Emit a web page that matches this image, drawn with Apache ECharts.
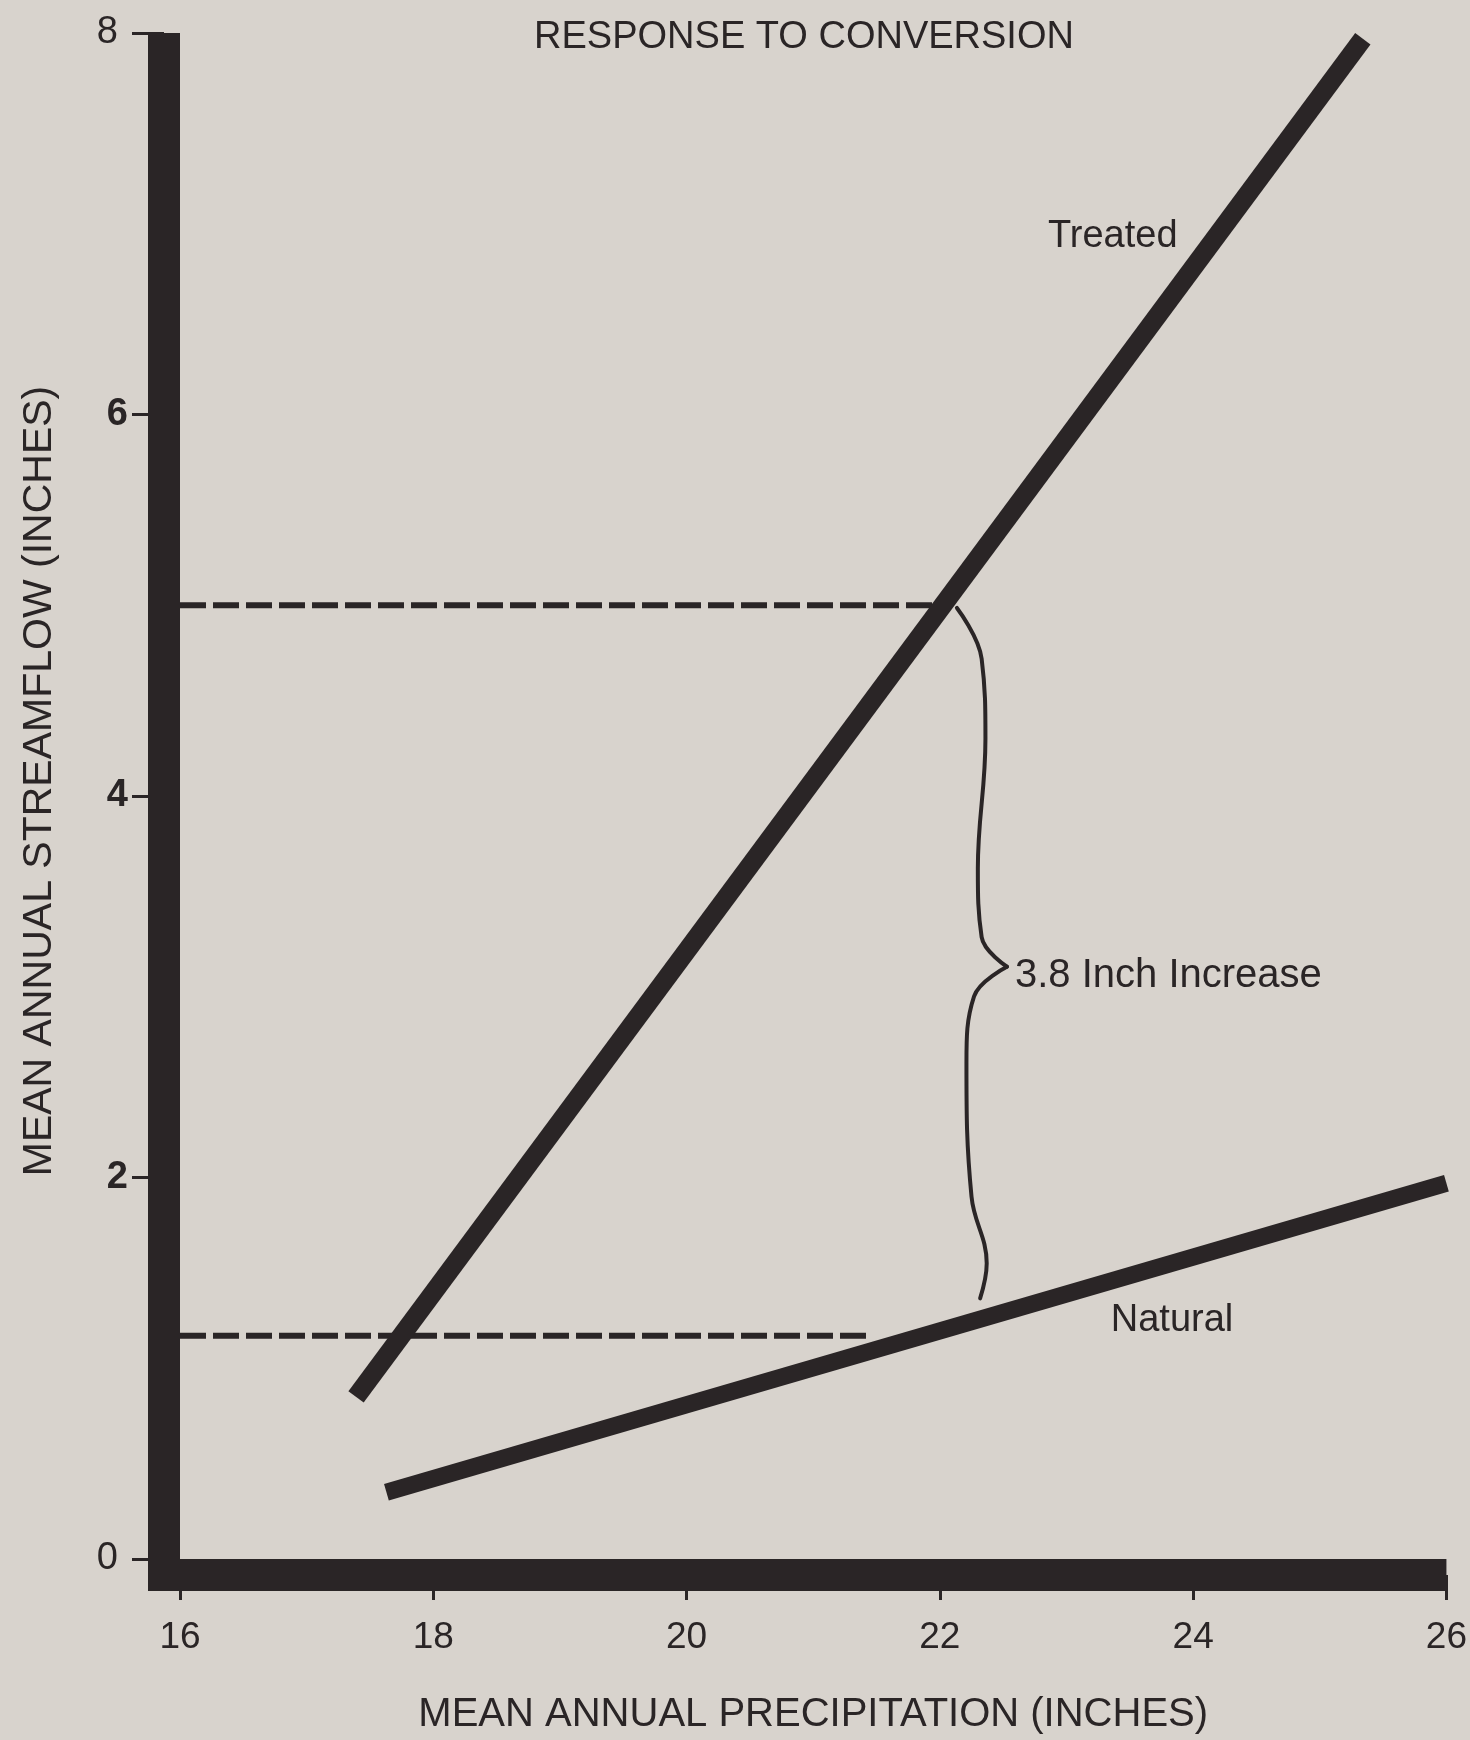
<!DOCTYPE html>
<html>
<head>
<meta charset="utf-8">
<script src="https://cdn.jsdelivr.net/npm/echarts@6/dist/echarts.min.js"></script>
<style>
html,body{margin:0;padding:0;background:#d8d3cd;}
#c{width:1470px;height:1740px;}
</style>
</head>
<body>
<div id="c"></div>
<script>
// ---- data ----
const xTicks = [16, 18, 20, 22, 24, 26];
const yTicks = [0, 2, 4, 6, 8];
const treatedX = [17.39, 25.34];
const treatedY = [0.85, 7.97];
const naturalX = [17.63, 26.0];
const naturalY = [0.35, 1.97];
const upperRefX = [16, 22.0];
const upperRefY = [5.0, 5.0];
const lowerRefX = [16, 21.45];
const lowerRefY = [1.17, 1.17];
// curly brace (annotation) key points in data units
const braceUpperX = [22.135, 22.33, 22.36, 22.30, 22.33, 22.53];
const braceUpperY = [4.986, 4.72, 4.30, 3.62, 3.26, 3.105];
const braceLowerX = [22.53, 22.27, 22.21, 22.25, 22.37, 22.318];
const braceLowerY = [3.105, 2.95, 2.60, 1.90, 1.55, 1.366];
const titleText = 'RESPONSE TO CONVERSION';
const xName = 'MEAN ANNUAL PRECIPITATION (INCHES)';
const yName = 'MEAN ANNUAL STREAMFLOW (INCHES)';
const treatedLabel = 'Treated';
const naturalLabel = 'Natural';
const increaseLabel = '3.8 Inch Increase';

const ink = '#2a2526';
const font = '"Liberation Sans", Arial, Helvetica, sans-serif';
const zip = (xs, ys) => xs.map((x, i) => [x, ys[i]]);

const chart = echarts.init(document.getElementById('c'), null, {renderer: 'canvas'});
chart.setOption({
  backgroundColor: '#d8d3cd',
  animation: false,
  grid: {left: 180, right: 23, top: 33, bottom: 179, containLabel: false},
  xAxis: {
    type: 'value', min: 16, max: 26, interval: 2, offset: 16,
    name: xName, nameLocation: 'middle', nameGap: 120,
    nameTextStyle: {color: ink, fontSize: 40, fontFamily: font},
    axisLine: {show: true, onZero: false, lineStyle: {color: ink, width: 32, cap: 'butt'},
      symbol: ['rect', 'none'], symbolSize: [32, 32], symbolOffset: [-16, 0]},
    axisTick: {show: true, length: 25, lineStyle: {color: ink, width: 3}},
    axisLabel: {color: ink, fontSize: 37, fontFamily: font, margin: 44,
      formatter: v => xTicks.includes(v) ? String(v) : ''},
    splitLine: {show: false}
  },
  yAxis: {
    type: 'value', min: 0, max: 8, interval: 2, offset: 16,
    name: yName, nameLocation: 'middle', nameGap: 104,
    nameTextStyle: {color: ink, fontSize: 41, fontFamily: font, padding: [0, 0, 0, 30]},
    axisLine: {show: true, onZero: false, lineStyle: {color: ink, width: 32, cap: 'butt'}},
    axisTick: {show: true, length: 32, lineStyle: {color: ink, width: 3}},
    axisLabel: {color: ink, fontSize: 38, fontFamily: font, margin: 36,
      formatter: v => !yTicks.includes(v) ? '' : (v === 0 || v === 8 ? '{e|' + v + '}' : '{m|' + v + '}'),
      rich: {
        e: {fontSize: 38, fontFamily: font, color: ink, padding: [0, 10, 0, 0]},
        m: {fontSize: 38, fontFamily: font, color: ink, fontWeight: 'bold'}
      }},
    splitLine: {show: false}
  },
  graphic: [
    {type: 'text', x: 804, y: 38, style: {text: titleText, fill: ink, font: '38px ' + font, align: 'center', verticalAlign: 'middle'}},
    {type: 'text', x: 1048, y: 237, style: {text: treatedLabel, fill: ink, font: '38px ' + font, align: 'left', verticalAlign: 'middle'}},
    {type: 'text', x: 1172, y: 1321, style: {text: naturalLabel, fill: ink, font: '38px ' + font, align: 'center', verticalAlign: 'middle'}},
    {type: 'text', x: 1015, y: 976, style: {text: increaseLabel, fill: ink, font: '40px ' + font, align: 'left', verticalAlign: 'middle'}}
  ],
  series: [
    {type: 'line', name: 'upperRef', data: zip(upperRefX, upperRefY), showSymbol: false, z: 2,
      lineStyle: {color: ink, width: 6, type: [26, 7], cap: 'butt'}},
    {type: 'line', name: 'lowerRef', data: zip(lowerRefX, lowerRefY), showSymbol: false, z: 2,
      lineStyle: {color: ink, width: 6, type: [26, 7], cap: 'butt'}},
    {type: 'line', name: 'Treated', data: zip(treatedX, treatedY), showSymbol: false, z: 3,
      lineStyle: {color: ink, width: 19, cap: 'butt'}},
    {type: 'line', name: 'Natural', data: zip(naturalX, naturalY), showSymbol: false, z: 3,
      lineStyle: {color: ink, width: 17, cap: 'butt'}},
    {type: 'line', name: 'braceU', data: zip(braceUpperX, braceUpperY), showSymbol: false, smooth: 0.4, z: 3,
      lineStyle: {color: ink, width: 4, cap: 'round'}},
    {type: 'line', name: 'braceL', data: zip(braceLowerX, braceLowerY), showSymbol: false, smooth: 0.4, z: 3,
      lineStyle: {color: ink, width: 4, cap: 'round'}}
  ]
});
</script>
</body>
</html>
